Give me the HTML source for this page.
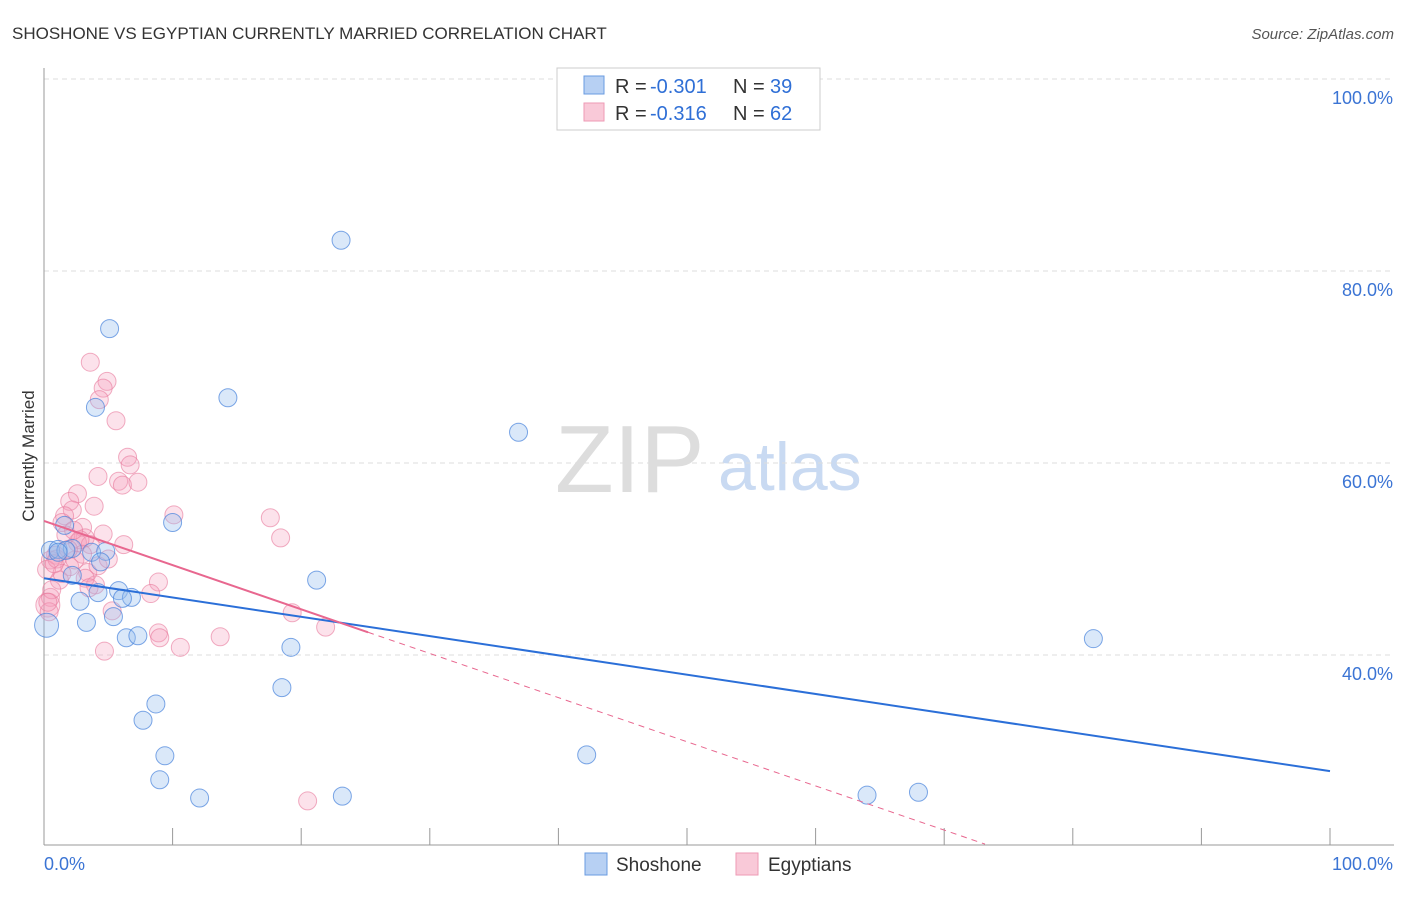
<!DOCTYPE html>
<html><head><meta charset="utf-8"><style>
body{margin:0;background:#fff;font-family:"Liberation Sans",sans-serif;}
svg text{font-family:"Liberation Sans",sans-serif;}
</style></head><body>
<svg width="1406" height="892">
<text x="12" y="39" font-size="17" fill="#333">SHOSHONE VS EGYPTIAN CURRENTLY MARRIED CORRELATION CHART</text>
<text x="1394" y="39" font-size="15" fill="#555" font-style="italic" text-anchor="end">Source: ZipAtlas.com</text>
<text x="34" y="456" font-size="17" fill="#333" transform="rotate(-90 34 456)" text-anchor="middle">Currently Married</text>
<text x="555" y="492" font-size="96" fill="#ddd" font-family="Liberation Serif">ZIP</text>
<text x="718" y="490" font-size="68" fill="#c9daf2">atlas</text>
<g id="grid"></g>
<g id="axes"></g>
<g id="pts"></g>
<g id="trend"></g>
<g>
<rect x="557" y="68" width="263" height="62" fill="#fff" stroke="#ccc"/>
<rect x="584" y="76" width="20" height="18" fill="#b7d0f3" stroke="#6a9be0"/>
<rect x="584" y="103" width="20" height="18" fill="#f9c9d8" stroke="#ee9ab5"/>
<text y="93" font-size="20" fill="#333"><tspan x="615">R =</tspan><tspan x="650" fill="#2f6fd6">-0.301</tspan><tspan x="733">N =</tspan><tspan x="770" fill="#2f6fd6">39</tspan></text>
<text y="120" font-size="20" fill="#333"><tspan x="615">R =</tspan><tspan x="650" fill="#2f6fd6">-0.316</tspan><tspan x="733">N =</tspan><tspan x="770" fill="#2f6fd6">62</tspan></text>
</g>
<g>
<rect x="585" y="853" width="22" height="22" fill="#b7d0f3" stroke="#6a9be0"/>
<text x="616" y="871" font-size="19" fill="#333">Shoshone</text>
<rect x="736" y="853" width="22" height="22" fill="#f9c9d8" stroke="#ee9ab5"/>
<text x="768" y="871" font-size="19" fill="#333">Egyptians</text>
</g>
<text x="44" y="870" font-size="18" fill="#3b74d4">0.0%</text>
<text x="1393" y="870" font-size="18" fill="#3b74d4" text-anchor="end">100.0%</text>
</svg>
<script>
const yTicks=[100,80,60,40];
const yTickLabels=["100.0%","80.0%","60.0%","40.0%"];
const blueX=[23.1,5.1,4.0,14.3,36.9,10.0,0.5,1.1,2.2,3.7,4.8,4.4,2.2,21.2,5.8,6.8,6.1,2.8,5.4,3.3,0.2,6.4,7.3,19.2,81.6,18.5,8.7,7.7,9.4,42.2,9.0,12.1,23.2,64.0,68.0,1.7,1.6,1.1,4.2];
const blueY=[83.2,74.0,65.8,66.8,63.2,53.8,50.9,51.0,51.1,50.7,50.8,49.7,48.3,47.8,46.7,46.0,45.9,45.6,44.0,43.4,43.1,41.8,42.0,40.8,41.7,36.6,34.9,33.2,29.5,29.6,27.0,25.1,25.3,25.4,25.7,50.9,53.5,50.7,46.5];
const pinkX=[3.6,4.9,4.6,4.3,5.6,6.5,6.7,4.2,5.8,6.1,7.3,2.6,2.0,3.9,2.2,1.6,1.4,3.0,10.1,17.6,18.4,4.6,3.2,2.6,6.2,0.9,0.5,2.0,3.4,4.2,1.2,4.0,3.2,8.9,8.3,0.5,0.3,5.3,19.3,21.9,8.9,9.0,10.6,13.7,4.7,20.5,0.2,0.6,1.7,3.6,2.4,1.0,2.8,3.0,1.4,5.0,0.4,2.3,1.9,3.5,0.8,0.3];
const pinkY=[70.5,68.5,67.8,66.6,64.4,60.6,59.8,58.6,58.1,57.7,58.0,56.8,56.0,55.5,55.1,54.5,53.8,53.3,54.6,54.3,52.2,52.6,52.2,51.7,51.5,50.4,49.9,49.2,48.6,49.3,47.8,47.3,48.0,47.6,46.4,46.0,45.2,44.6,44.4,42.9,42.3,41.8,40.8,41.9,40.4,24.8,48.9,46.8,52.5,51.5,49.9,50.0,52.0,50.5,48.5,50.0,44.5,53.0,51.0,47.0,49.5,45.5];
const blueTrend=[48.0,27.9];
const pinkTrend=[53.96,-0.46];
const X=v=>44+v*12.86, Y=v=>79+(100-v)*9.6;
const NS="http://www.w3.org/2000/svg";
function mk(t,a,p){const e=document.createElementNS(NS,t);for(const k in a)e.setAttribute(k,a[k]);p.appendChild(e);return e;}
const grid=document.getElementById('grid');
yTicks.forEach((t,i)=>{
 const l=mk('line',{x1:44,x2:1394,y1:Y(t),y2:Y(t),stroke:'#ddd','stroke-dasharray':'5,4'},grid);
 
 
 const tx=mk('text',{x:1393,y:Y(t)+25,'font-size':18,fill:'#3b74d4','text-anchor':'end'},grid);
 tx.textContent=yTickLabels[i];
 
 
});
const ax=document.getElementById('axes');
const yl=mk('line',{x1:44,x2:44,y1:68,y2:845,stroke:'#999'},ax);


const xl=mk('line',{x1:44,x2:1394,y1:845,y2:845,stroke:'#999'},ax);


for(let i=0;i<=10;i++){const t=mk('line',{x1:X(i*10),x2:X(i*10),y1:828,y2:845,stroke:'#999'},ax);
 
 }
const pts=document.getElementById('pts');
pinkX.forEach((x,i)=>{const c=mk('circle',{cx:X(x),cy:Y(pinkY[i]),r:(i==36?12:9),fill:'rgba(244,160,188,0.3)',stroke:'rgba(232,120,155,0.6)','stroke-width':1},pts);
 
 });
blueX.forEach((x,i)=>{const c=mk('circle',{cx:X(x),cy:Y(blueY[i]),r:(i==20?12:9),fill:'rgba(150,188,238,0.35)',stroke:'rgba(70,130,220,0.7)','stroke-width':1},pts);
 
 });
const tr=document.getElementById('trend');
const bl=mk('line',{x1:X(0),y1:Y(blueTrend[0]),x2:X(100),y2:Y(blueTrend[1]),stroke:'#2b6fd8','stroke-width':2},tr);


const pf=x=>pinkTrend[0]+pinkTrend[1]*x;
const pl=mk('line',{x1:X(0),y1:Y(pf(0)),x2:X(25.2),y2:Y(pf(25.2)),stroke:'#e8678f','stroke-width':2},tr);


const xe=(20.3-pinkTrend[0])/pinkTrend[1];
const pd=mk('line',{x1:X(25.2),y1:Y(pf(25.2)),x2:X(xe),y2:Y(pf(xe)),stroke:'#e8678f','stroke-width':1,'stroke-dasharray':'6,5'},tr);


</script>
</body></html>
